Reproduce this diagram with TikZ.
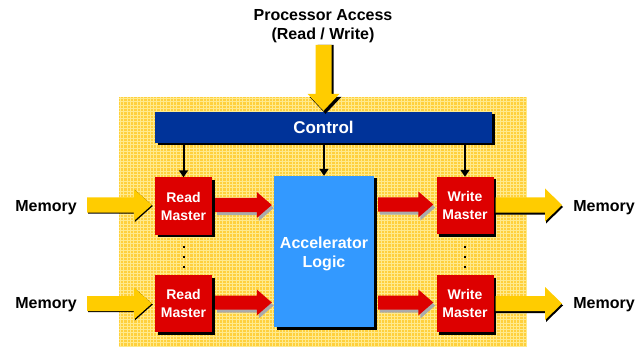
\documentclass[tikz,border=0pt]{standalone}
\usepackage{fontspec}
\setmainfont{Liberation Sans}
\usetikzlibrary{arrows.meta,shadows,calc}

\definecolor{bgyellow}{RGB}{255,208,60}
\definecolor{bggrid}{RGB}{255,234,140}
\definecolor{ctrlblue}{RGB}{0,51,153}
\definecolor{accblue}{RGB}{51,153,255}
\definecolor{mred}{RGB}{221,0,0}
\definecolor{fatyellow}{RGB}{255,204,0}
\definecolor{redshadow}{RGB}{170,170,170}

\tikzset{
  boxshadow/.style={drop shadow={shadow xshift=2.5pt,shadow yshift=-2.5pt,fill=black,opacity=1}},
  ctrlbox/.style={fill=ctrlblue,boxshadow,text=white,font=\fontsize{17}{20}\selectfont\bfseries,
    minimum width=337pt,minimum height=31pt,inner sep=0pt},
  master/.style={fill=mred,boxshadow,text=white,font=\fontsize{14}{18}\selectfont\bfseries,
    align=center,minimum width=57pt,minimum height=57pt,inner sep=0pt},
  accel/.style={fill=accblue,boxshadow,minimum width=100pt,minimum height=151pt,inner sep=0pt},
  acctext/.style={text=white,font=\fontsize{16}{19}\selectfont\bfseries,align=center,
    inner sep=0pt,yshift=-2.5pt},
  label/.style={font=\fontsize{16}{19}\selectfont\bfseries,align=center,inner sep=0pt},
  ctrlarrow/.style={line width=2pt,-{Triangle[length=7pt,width=9pt]}},
  dotmark/.style={fill=black,minimum size=2pt,inner sep=0pt},
}

% horizontal block arrow: #1 tail, #2 tip, #3 fill options,
% #4 half shaft width, #5 half head width, #6 head length
\newcommand\hblockarrow[6]{%
  \fill[#3] let \p1=(#1), \p2=(#2) in
    (\x1,\y2+#4) -- (\x2-#6,\y2+#4) -- (\x2-#6,\y2+#5) -- (\x2,\y2)
    -- (\x2-#6,\y2-#5) -- (\x2-#6,\y2-#4) -- (\x1,\y2-#4) -- cycle;}
% vertical (downward) block arrow, same arguments
\newcommand\vblockarrow[6]{%
  \fill[#3] let \p1=(#1), \p2=(#2) in
    (\x2-#4,\y1) -- (\x2-#4,\y2+#6) -- (\x2-#5,\y2+#6) -- (\x2,\y2)
    -- (\x2+#5,\y2+#6) -- (\x2+#4,\y2+#6) -- (\x2+#4,\y1) -- cycle;}

\begin{document}
\begin{tikzpicture}[x=1pt,y=-1pt]
\useasboundingbox (0,0) rectangle (644,347);

% chequered yellow board
\fill[bgyellow] (119,97) rectangle (527,347);
\begin{scope}
  \clip (119,97) rectangle (527,347);
  \foreach \gx in {120.5,123.8,...,527}
    \draw[bggrid,line width=0.7pt] (\gx,97) -- (\gx,347);
  \foreach \gy in {98.5,101.8,...,347}
    \draw[bggrid,line width=0.7pt] (119,\gy) -- (527,\gy);
\end{scope}

% title and processor access arrow
\node[label] (proc) at (323,26.5) {Processor Access\\(Read / Write)};
\coordinate (procin) at (323,45);

% blocks
\node[ctrlbox] (control) at (323.5,127.5) {Control};
\node[master] (rm1) at (183.5,206) {Read\\Master};
\node[master] (rm2) at (183.5,303.5) {Read\\Master};
\node[master] (wm1) at (465,205.5) {Write\\Master};
\node[master] (wm2) at (465,303.5) {Write\\Master};
\node[accel] (acc) at (324,251.5) {};
\node[acctext] (acclabel) at (acc.center) {Accelerator\\Logic};

% memory labels
\node[label] (memL1) at (46,208) {Memory};
\node[label] (memL2) at (46,305) {Memory};
\node[label] (memR1) at (604,208) {Memory};
\node[label] (memR2) at (604,305) {Memory};

% tail / tip points of the block arrows
\coordinate (inL1) at (87,205);
\coordinate (inL2) at (87,303.5);
\coordinate (outR1) at (562,205);
\coordinate (outR2) at (562,303.5);

% processor access arrow
\vblockarrow{procin}{[shift={(2,2)}]control.north}{black}{8pt}{16pt}{17pt}
\vblockarrow{procin}{[shift={(0,-1)}]control.north}{fatyellow}{8pt}{16pt}{17pt}

% memory -> read master
\foreach \m/\r in {inL1/rm1,inL2/rm2}{
  \hblockarrow{[shift={(1,2)}]\m}{[shift={(-2,1)}]\r.west |- \m}{black}{7.5pt}{16pt}{18pt}
  \hblockarrow{\m}{[shift={(-3,0)}]\r.west |- \m}{fatyellow}{7.5pt}{16pt}{18pt}
}
% write master -> memory
\foreach \w/\m in {wm1/outR1,wm2/outR2}{
  \hblockarrow{[shift={(2,2)}]\w.east |- \m}{[shift={(1,2)}]\m}{black}{7.5pt}{16.5pt}{17pt}
  \hblockarrow{[shift={(2,0)}]\w.east |- \m}{\m}{fatyellow}{7.5pt}{16.5pt}{17pt}
}
% read master -> accelerator -> write master
\foreach \a in {rm1,rm2}{
  \hblockarrow{[shift={(5,2)}]\a.east}{[shift={(0,2)}]acc.west |- \a}{redshadow}{7pt}{13pt}{15pt}
  \hblockarrow{[shift={(3,-1)}]\a.east}{[shift={(-2,-1)}]acc.west |- \a}{mred}{7pt}{13pt}{15pt}
}
\foreach \b in {wm1,wm2}{
  \hblockarrow{[shift={(6,2)}]acc.east |- \b}{[shift={(-1,2)}]\b.west}{redshadow}{7pt}{13pt}{15pt}
  \hblockarrow{[shift={(4,-1)}]acc.east |- \b}{[shift={(-3,-1)}]\b.west}{mred}{7pt}{13pt}{15pt}
}

% control lines
\draw[ctrlarrow] (control.south -| rm1) -- (rm1.north);
\draw[ctrlarrow] (control.south -| acc) -- (acc.north);
\draw[ctrlarrow] (control.south -| wm1) -- (wm1.north);

% continuation dots
\foreach \c in {rm1,wm1}
  \foreach \dy in {247,257,267}{
    \coordinate (dotrow) at (0,\dy);
    \node[dotmark] at (\c |- dotrow) {};
  }
\end{tikzpicture}
\end{document}
